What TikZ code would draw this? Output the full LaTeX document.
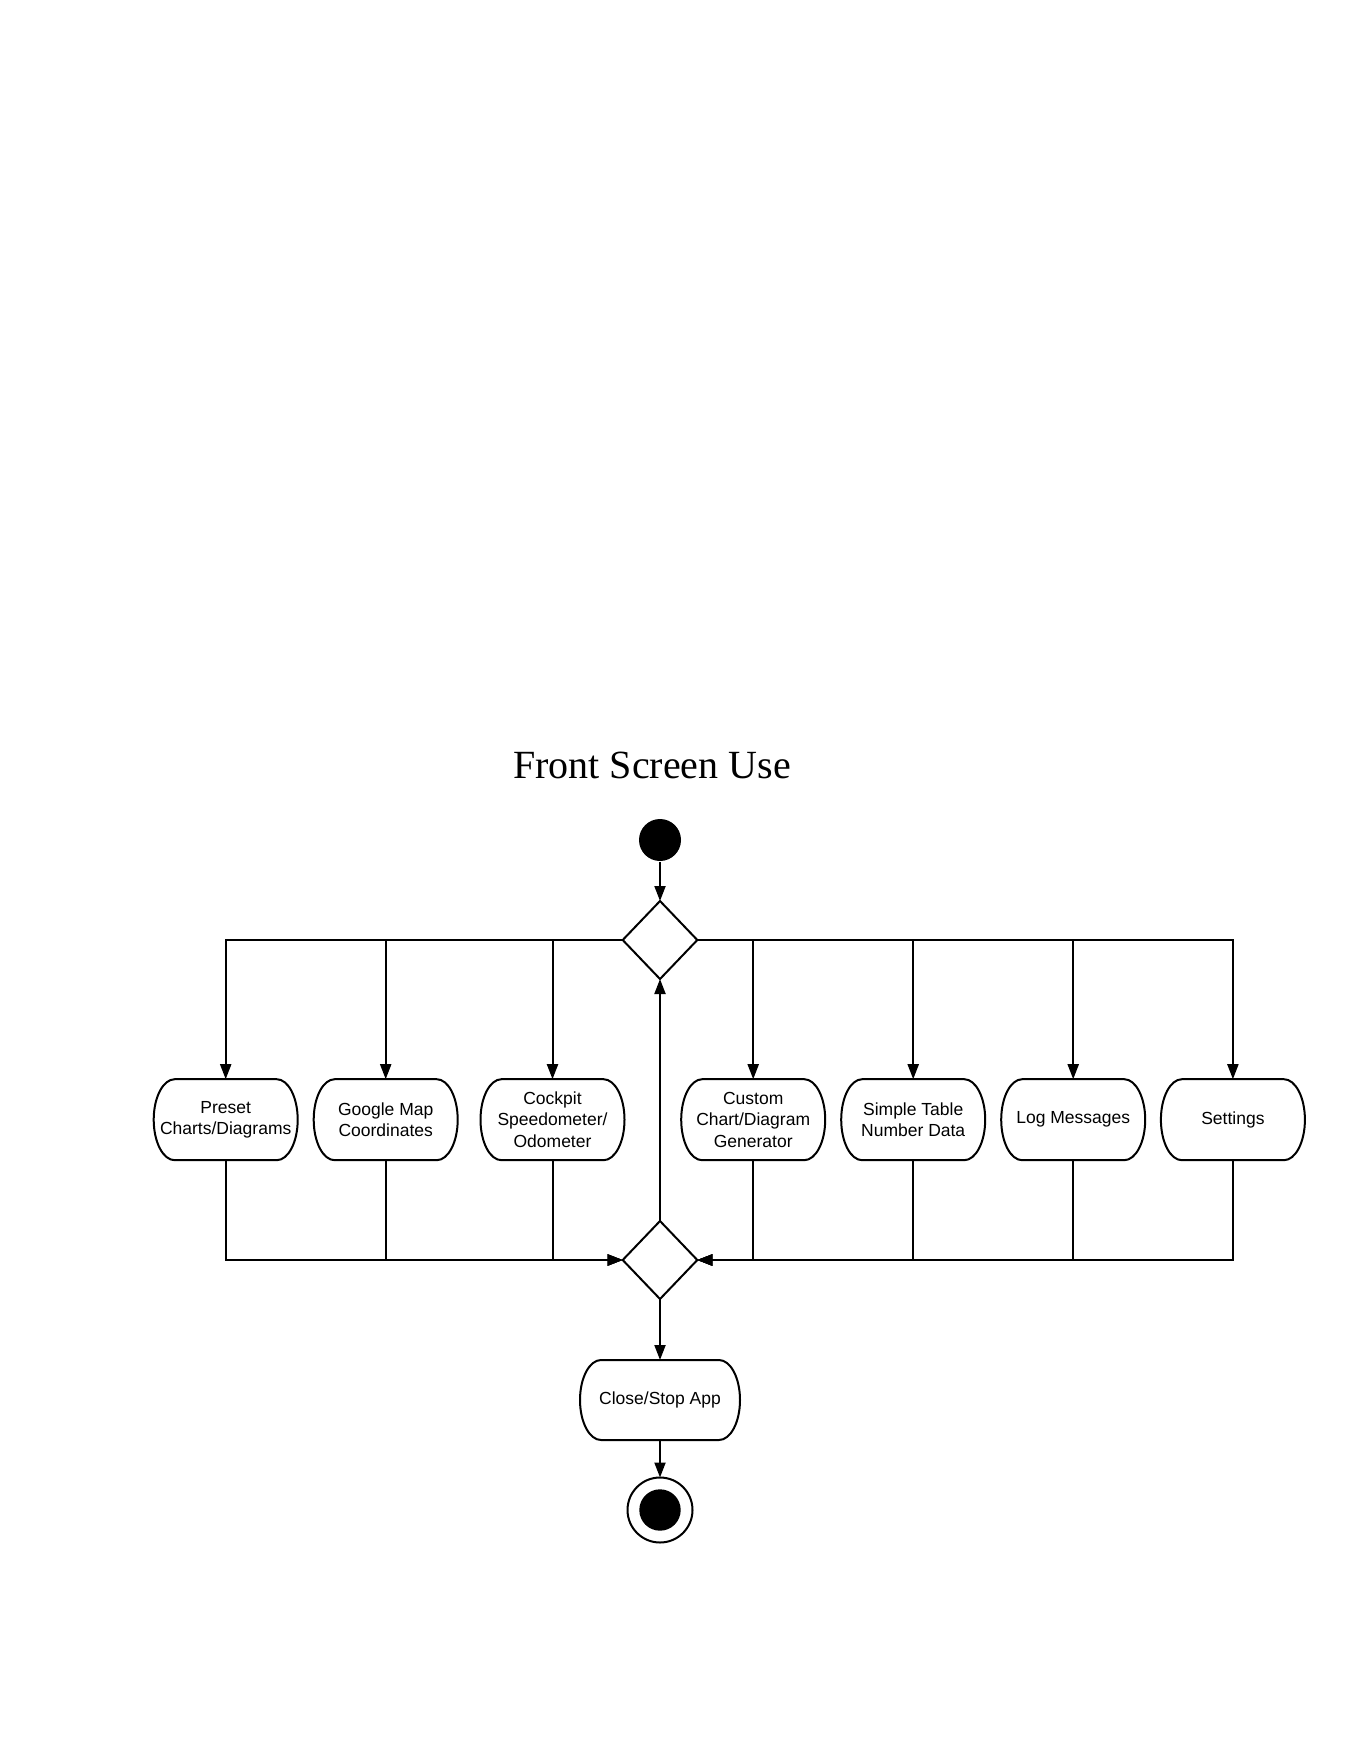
\documentclass[tikz,border=0pt]{standalone}
\usepackage{fontspec}
\usetikzlibrary{arrows.meta,shapes.geometric}
\newfontfamily\boxfont{Liberation Sans}
\newfontfamily\headfont{Liberation Serif}
\begin{document}
\begin{tikzpicture}[x=1pt,y=-1pt,
  line width=2pt,
  arr/.style={-{Triangle[length=15pt,width=11pt]}},
  activity/.style={rectangle,draw=none,inner sep=0pt,outer sep=0pt,
    minimum width=144pt,minimum height=81pt,align=center,
    font=\boxfont\fontsize{17.5}{21.5}\selectfont},
  branch/.style={diamond,draw,fill=white,inner sep=0pt,outer sep=0pt,
    minimum width=74.6pt,minimum height=78pt},
  startdot/.style={circle,fill=black,draw=none,inner sep=0pt,minimum size=42pt},
  enddot/.style={circle,draw,inner sep=0pt,outer sep=0pt,minimum size=65pt},
]
\useasboundingbox (0,0) rectangle (1360,1760);

% title
\node[font=\headfont\fontsize{40}{48}\selectfont] (title) at (652,765) {Front Screen Use};

% start, decisions, end
\node[startdot] (start) at (660,840) {};
\node[branch] (fork) at (660,940) {};
\node[branch] (merge) at (660,1260) {};
\node[activity,minimum width=160pt,minimum height=80pt] (close) at (660,1400) {Close/Stop App};
\node[enddot] (final) at (660,1510) {};
\fill (final.center) circle[radius=20.7pt];

% activities
\node[activity] (preset)   at (225.7,1119.7) {Preset\\Charts/Diagrams};
\node[activity] (google)   at (385.7,1119.7) {Google Map\\Coordinates};
\node[activity] (cockpit)  at (552.5,1119.7) {Cockpit\\Speedometer/\\Odometer};
\node[activity] (custom)   at (753.2,1119.7) {Custom\\Chart/Diagram\\Generator};
\node[activity] (simple)   at (913.2,1119.7) {Simple Table\\Number Data};
\node[activity] (logmsg)   at (1073.2,1119.7) {Log Messages};
\node[activity] (settings) at (1232.9,1119.7) {Settings};

% rounded activity outlines
\foreach \n/\ry in {preset/40.5,google/40.5,cockpit/40.5,custom/40.5,simple/40.5,logmsg/40.5,settings/40.5,close/40} {
  \draw ([xshift=21pt]\n.north west) -- ([xshift=-21pt]\n.north east)
    arc[start angle=90,end angle=-90,x radius=21pt,y radius=\ry pt]
    -- ([xshift=21pt]\n.south west)
    arc[start angle=270,end angle=90,x radius=21pt,y radius=\ry pt] -- cycle;
}

% flow
\draw[arr] (start) -- (fork.north);
\foreach \n in {preset,google,cockpit} \draw[arr] (fork.west) -| (\n.north);
\foreach \n in {custom,simple,logmsg,settings} \draw[arr] (fork.east) -| (\n.north);
\foreach \n in {preset,google,cockpit} \draw[arr] (\n.south) |- (merge.west);
\foreach \n in {custom,simple,logmsg,settings} \draw[arr] (\n.south) |- (merge.east);
\draw[arr] (merge.north) -- (fork.south);
\draw[arr] (merge.south) -- (close.north);
\draw[arr] (close.south) -- (final.north);
\end{tikzpicture}
\end{document}
